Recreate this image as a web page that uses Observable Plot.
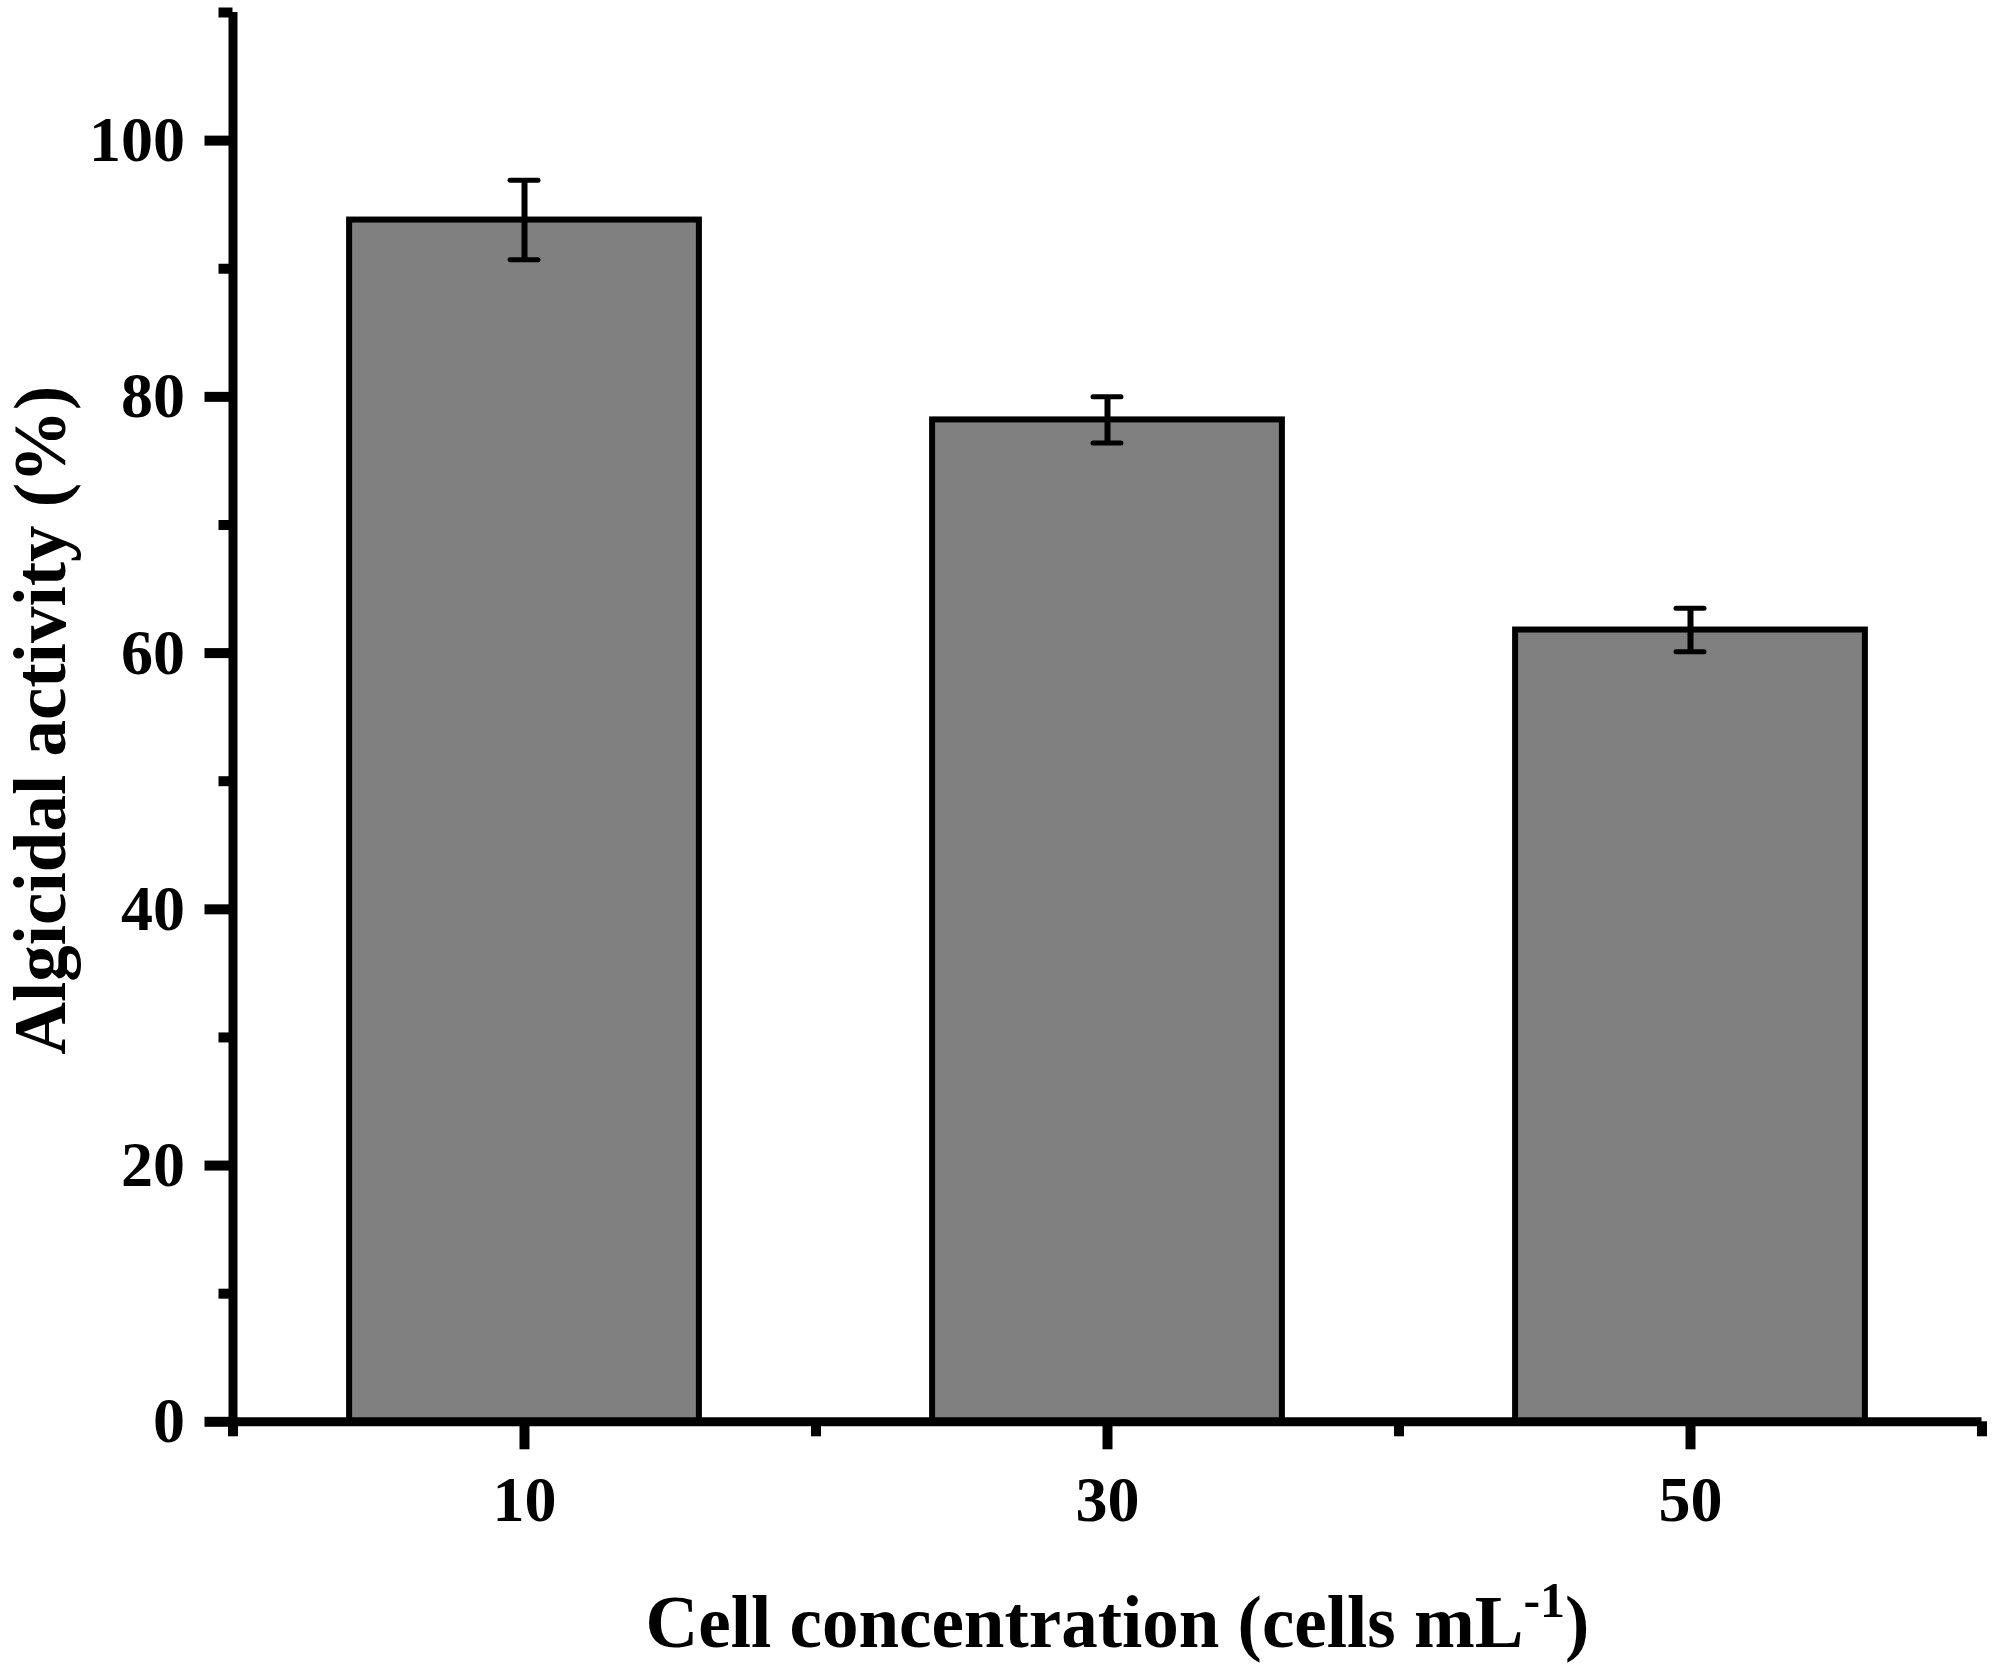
<!DOCTYPE html>
<html>
<head>
<meta charset="utf-8">
<script src="https://cdn.jsdelivr.net/npm/d3@7"></script>
<script src="https://cdn.jsdelivr.net/npm/@observablehq/plot@0.6"></script>
<style>
  html, body { margin: 0; padding: 0; background: #fff; }
  #chart { width: 1995px; height: 1668px; }
</style>
</head>
<body>
<div id="chart"></div>
<script>
// ---- data ----
const concentrations = [10, 30, 50];
const activity = [93.8, 78.2, 61.8];
const errors = [3.1, 1.8, 1.7];

const yMajorTicks = [0, 20, 40, 60, 80, 100];
const yMinorTicks = [10, 30, 50, 70, 90, 110];
const xMajorTicks = [10, 30, 50];
const xMinorTicks = [0, 20, 40, 60];

const xLabelMain = "Cell concentration (cells mL";
const xLabelSup = "-1";
const xLabelEnd = ")";
const yLabel = "Algicidal activity (%)";

// ---- build table ----
const data = concentrations.map((c, i) => ({c, v: activity[i], e: errors[i]}));
const xLabelFull = xLabelMain + xLabelSup + xLabelEnd;

const font = "'Liberation Serif', 'Times New Roman', Times, serif";

const plot = Plot.plot({
  width: 1995,
  height: 1668,
  marginLeft: 232.5,
  marginRight: 13.5,
  marginTop: 12,
  marginBottom: 246.7,
  style: {fontFamily: font, fontWeight: "bold", fontSize: "64px", background: "#fff", color: "#000"},
  x: {domain: [0, 60], axis: null},
  y: {domain: [0, 110], axis: null},
  marks: [
    Plot.rectY(data, {
      x1: d => d.c - 6, x2: d => d.c + 6, y1: 0, y2: "v",
      fill: "#808080", stroke: "#000", strokeWidth: 6, strokeLinejoin: "miter"
    }),
    Plot.ruleX(data, {x: "c", y1: d => d.v - d.e, y2: d => d.v + d.e, stroke: "#000", strokeWidth: 6}),
    Plot.ruleY(data, {y: d => d.v + d.e, x1: d => d.c - 0.48, x2: d => d.c + 0.48, stroke: "#000", strokeWidth: 5, strokeLinecap: "round"}),
    Plot.ruleY(data, {y: d => d.v - d.e, x1: d => d.c - 0.48, x2: d => d.c + 0.48, stroke: "#000", strokeWidth: 5, strokeLinecap: "round"}),
    // axis lines
    Plot.ruleX([0], {y1: 0, y2: 110, stroke: "#000", strokeWidth: 9}),
    Plot.ruleY([0], {x1: 0, x2: 60, stroke: "#000", strokeWidth: 9}),
    // y axis ticks
    Plot.axisY({ticks: yMajorTicks, tickSize: 28, tickPadding: 20, strokeWidth: 10, stroke: "#000",
      fontSize: 64, fontFamily: font, fontWeight: "bold", fill: "#000", label: null, tickFormat: d => String(d)}),
    Plot.axisY({ticks: yMinorTicks, tickSize: 14, strokeWidth: 10, stroke: "#000", text: null, label: null}),
    // x axis ticks
    Plot.axisX({ticks: xMajorTicks, tickSize: 28, tickPadding: 26, strokeWidth: 10, stroke: "#000",
      fontSize: 64, fontFamily: font, fontWeight: "bold", fill: "#000", label: null, tickFormat: d => String(d)}),
    Plot.axisX({ticks: xMinorTicks, tickSize: 15, strokeWidth: 10, stroke: "#000", text: null, label: null}),
    // axis titles
    Plot.text([xLabelFull], {text: d => d, frameAnchor: "bottom", textAnchor: "middle", lineAnchor: "middle",
      dx: 10, dy: 202, fontSize: 73, fontFamily: font, fontWeight: "bold", fill: "#000"}),
    Plot.text([yLabel], {text: d => d, frameAnchor: "left", textAnchor: "middle", lineAnchor: "middle",
      rotate: -90, dx: -191, dy: 3, fontSize: 73, fontFamily: font, fontWeight: "bold", fill: "#000"})
  ]
});

// superscript in the x-axis title
d3.select(plot).selectAll("text").filter(function () { return this.textContent === xLabelFull; })
  .each(function () {
    const t = d3.select(this);
    t.text(null);
    t.append("tspan").text(xLabelMain);
    t.append("tspan").attr("font-size", 50).attr("dy", -30).text(xLabelSup);
    t.append("tspan").attr("font-size", 73).attr("dy", 30).text(xLabelEnd);
  });

document.getElementById("chart").appendChild(plot);
</script>
</body>
</html>
